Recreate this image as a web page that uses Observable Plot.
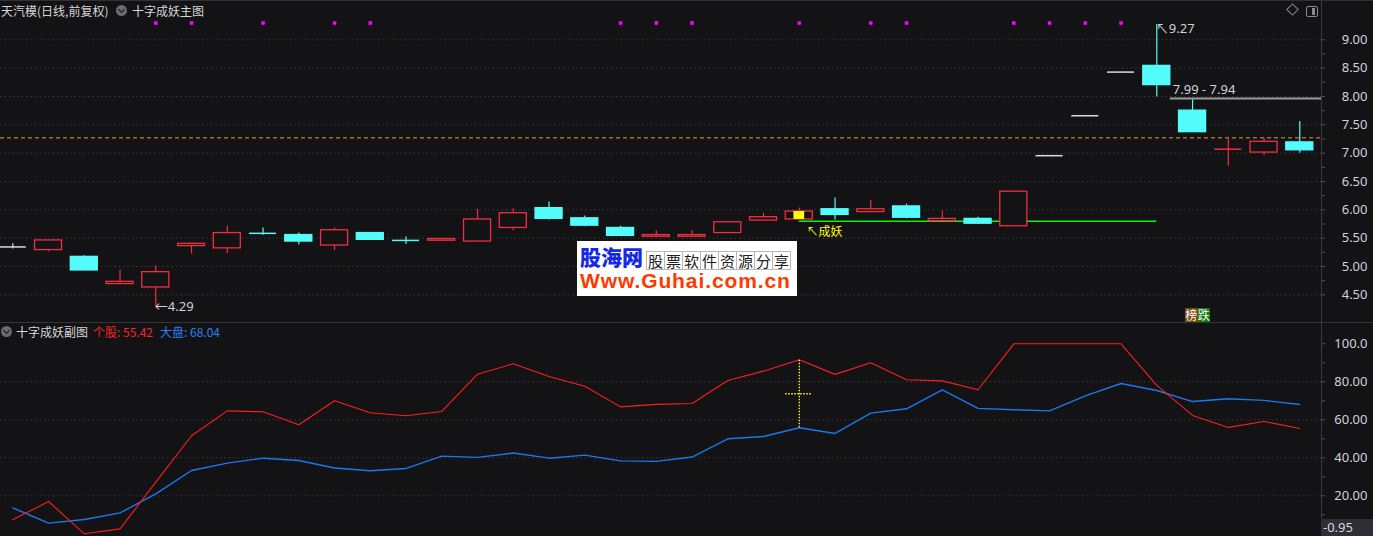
<!DOCTYPE html>
<html><head><meta charset="utf-8">
<script src="https://cdn.jsdelivr.net/npm/d3@7"></script>
<script src="https://cdn.jsdelivr.net/npm/@observablehq/plot@0.6"></script>
<style>
html,body{margin:0;padding:0;background:#131215;}
#wrap{position:relative;width:1373px;height:536px;overflow:hidden;background:#131215;font-family:"Noto Sans CJK SC","Noto Sans",sans-serif;}
.abs{position:absolute;white-space:nowrap;}
.ttl{font-size:12px;line-height:14px;color:#d6d6d6;}
.chev{width:11px;height:11px;border-radius:50%;background:#6c6c70;}
.chev::after{content:"";position:absolute;left:3px;top:2px;width:4px;height:4px;border-right:1.5px solid #1a1a1a;border-bottom:1.5px solid #1a1a1a;transform:rotate(45deg);}
.cell{display:inline-block;width:17px;height:17px;border:1px solid #b8b8b8;border-right:none;font-size:15px;line-height:17px;text-align:center;color:#202020;}
.cell:last-child{border-right:1px solid #b8b8b8;}
</style></head>
<body><div id="wrap"></div>
<script>
// ---------- data ----------
const opens  = [5.345,5.29,5.17,4.69,4.63,5.36,5.32,5.585,5.555,5.37,5.59,5.46,5.455,5.44,5.68,6.03,5.85,5.68,5.525,5.525,5.59,5.81,5.83,6.01,5.96,6.06,5.80,5.84,5.71,6.955,7.66,8.43,8.54,7.75,7.07,7.01,7.19];
const highs  = [5.40,5.46,5.19,4.94,5.01,5.40,5.71,5.68,5.59,5.68,5.59,5.52,5.485,6.01,6.02,6.14,5.89,5.71,5.63,5.63,5.78,5.94,6.03,6.21,6.17,6.10,5.98,5.87,6.32,6.955,7.66,8.43,9.27,7.94,7.28,7.26,7.56];
const lows   = [5.31,5.26,4.93,4.69,4.29,5.22,5.23,5.55,5.38,5.28,5.47,5.39,5.455,5.44,5.63,5.82,5.70,5.53,5.525,5.525,5.59,5.81,5.83,5.82,5.96,5.84,5.80,5.74,5.71,6.955,7.66,8.43,7.99,7.37,6.77,6.96,7.00];
const closes = [5.345,5.46,4.93,4.73,4.90,5.40,5.59,5.585,5.44,5.64,5.47,5.46,5.485,5.83,5.94,5.84,5.72,5.54,5.555,5.555,5.78,5.87,5.97,5.91,6.01,5.86,5.84,5.755,6.32,6.955,7.66,8.43,8.20,7.37,7.07,7.20,7.05];
// u = up (red hollow), d = down (cyan filled), n = one-price / neutral (grey)
const kinds  = ["n","u","d","u","u","u","u","d","d","u","d","d","u","u","u","d","d","d","u","u","u","u","u","d","u","d","u","d","u","n","n","n","d","d","u","u","d"];
const signalDays = [4,5,7,9,10,17,18,19,22,24,25,28,29,30,31];
const stockScore  = [7.4,17.0,0.0,2.6,27.2,51.6,64.7,64.2,57.4,70.0,63.7,62.1,64.4,84.0,89.5,82.8,77.7,66.8,68.1,68.6,80.7,85.6,91.6,83.9,90.0,81.1,80.5,75.8,100,100,100,100,78.1,62.3,56.0,59.1,55.42];
const marketScore = [13.7,5.6,7.5,11.0,21.0,33.3,37.2,39.8,38.6,34.6,33.2,34.4,40.9,40.2,42.5,39.8,41.4,38.4,38.1,40.4,50.0,51.2,55.8,52.8,63.5,65.8,75.8,66.0,65.3,64.7,72.6,79.1,75.4,69.6,71.1,70.2,68.04];
const priceTicks = [4.5,5.0,5.5,6.0,6.5,7.0,7.5,8.0,8.5,9.0];
const priceTickLabels = ["4.50","5.00","5.50","6.00","6.50","7.00","7.50","8.00","8.50","9.00"];
const priceMinorTicks = [4.5,4.75,5,5.25,5.5,5.75,6,6.25,6.5,6.75,7,7.25,7.5,7.75,8,8.25,8.5,8.75,9];
const scoreGrid = [20,40,60,80];
const scoreTicks = [20,40,60,80,100];
const scoreTickLabels = ["20.00","40.00","60.00","80.00","100.0"];
const scoreMinorTicks = [10,20,30,40,50,60,70,80,90,100];
const yaoIndex = 22, yaoEnd = 32, yaoLevel = 5.80, yaoLabelPrice = 5.60;
const gapStartIndex = 32, gapHigh = 7.99, gapLow = 7.94, gapLevel = 7.965;
const refPrice = 7.27;
const lowMarkIndex = 4, highMarkIndex = 32;

// ---------- helpers ----------
const RED = "#f52d41", CYAN = "#54fcfc", GREY = "#dcdcdc", BG = "#131215";
const AXIS_TXT = "#cfd3dc", GRID = "#45454a", AXIS_LINE = "#3a3a44";
const xDomain = [-0.344, 36.607];
const unitPx = 1321 / (xDomain[1] - xDomain[0]);
const half = 0.378;
const tickLen = 4 / unitPx;
const candles = opens.map((o, i) => ({
  i, o, h: highs[i], l: lows[i], c: closes[i], k: kinds[i],
  top: Math.max(o, closes[i]), bot: Math.min(o, closes[i])
}));
const bodies = candles.filter(d => d.top - d.bot >= 0.005);
const dojis = candles.filter(d => d.top - d.bot < 0.005);
const colorOf = k => k === "u" ? RED : k === "d" ? CYAN : GREY;
const font = '"Noto Sans","Noto Sans CJK SC",sans-serif';

const topPlot = Plot.plot({
  width: 1373, height: 323,
  marginLeft: 0, marginRight: 52, marginTop: 0, marginBottom: 0,
  style: {background: "transparent", fontFamily: font, fontSize: "13px", overflow: "visible"},
  x: {type: "linear", domain: xDomain, axis: null},
  y: {domain: [3.994, 9.6935], axis: null},
  marks: [
    Plot.ruleY(priceTicks, {stroke: GRID, strokeDasharray: "1.2,3.2"}),
    Plot.ruleY(priceMinorTicks, {y: d => d, x1: xDomain[1], x2: xDomain[1] + tickLen, stroke: "#55555e"}),
    Plot.text(priceTicks, {y: d => d, frameAnchor: "right", dx: 46, textAnchor: "end",
      text: (d, i) => priceTickLabels[i], fill: AXIS_TXT, fontSize: 13}),
    Plot.ruleX([xDomain[1]], {stroke: AXIS_LINE}),
    Plot.ruleY([refPrice], {stroke: "#e39a3c", strokeDasharray: "4,3"}),
    Plot.ruleY([yaoLevel], {x1: yaoIndex, x2: yaoEnd, stroke: "#10f010", strokeWidth: 1.5}),
    Plot.ruleY([gapLevel], {x1: gapStartIndex + half, x2: xDomain[1], stroke: "#9c9c9c", strokeWidth: 2}),
    Plot.text([gapLevel], {x: gapStartIndex + half + 0.07, y: d => d, dy: -9, textAnchor: "start",
      text: () => `${gapHigh.toFixed(2)} - ${gapLow.toFixed(2)}`, fill: AXIS_TXT, fontSize: 13}),
    // wicks
    Plot.ruleX(candles, {x: "i", y1: "top", y2: "h", stroke: d => colorOf(d.k), strokeWidth: 1.2}),
    Plot.ruleX(candles, {x: "i", y1: "l", y2: "bot", stroke: d => colorOf(d.k), strokeWidth: 1.2}),
    // bodies
    Plot.rect(bodies, {x1: d => d.i - half, x2: d => d.i + half, y1: "bot", y2: "top",
      fill: d => d.k === "u" ? BG : colorOf(d.k), stroke: d => colorOf(d.k), strokeWidth: 1.3}),
    // one-price / doji bodies as horizontal bars
    Plot.ruleY(dojis, {y: "o", x1: d => d.i - half, x2: d => d.i + half, stroke: d => colorOf(d.k), strokeWidth: 1.5}),
    // yellow marker inside the signal candle
    Plot.rect([candles[yaoIndex]], {x1: d => d.i - 0.15, x2: d => d.i + 0.15, y1: "bot", y2: "top", fill: "#ffff00"}),
    Plot.text([candles[yaoIndex]], {x: d => d.i + 0.2, y: () => yaoLabelPrice, textAnchor: "start",
      text: () => "↖成妖", fill: "#ffff00", fontSize: 12, fontFamily: '"Noto Sans CJK SC",sans-serif'}),
    // signal dots
    Plot.dot(signalDays, {x: d => d, frameAnchor: "top", dy: 22.5, symbol: "square", r: 2, fill: "#ff00ff", stroke: "none"}),
    // high / low annotations
    Plot.text([candles[lowMarkIndex]], {x: "i", y: "l", dx: -1, textAnchor: "start",
      text: d => "←" + d.l.toFixed(2), fill: AXIS_TXT, fontSize: 13}),
    Plot.text([candles[highMarkIndex]], {x: "i", y: "h", dx: -1, dy: 4, textAnchor: "start",
      text: d => "↖" + d.h.toFixed(2), fill: AXIS_TXT, fontSize: 13})
  ]
});

const scoreIdx = stockScore.map((v, i) => i);
const botPlot = Plot.plot({
  width: 1373, height: 213,
  marginLeft: 0, marginRight: 52, marginTop: 0, marginBottom: 0,
  style: {background: "transparent", fontFamily: font, fontSize: "13px", overflow: "visible"},
  x: {type: "linear", domain: xDomain, axis: null},
  y: {domain: [-1.42, 110.68], axis: null},
  marks: [
    Plot.ruleY(scoreGrid, {stroke: GRID, strokeDasharray: "1.2,3.2"}),
    Plot.ruleY(scoreMinorTicks, {y: d => d, x1: xDomain[1], x2: xDomain[1] + tickLen, stroke: "#55555e"}),
    Plot.text(scoreTicks, {y: d => d, frameAnchor: "right", dx: 46, textAnchor: "end",
      text: (d, i) => scoreTickLabels[i], fill: AXIS_TXT, fontSize: 13}),
    Plot.ruleX([xDomain[1]], {stroke: AXIS_LINE}),
    Plot.line(scoreIdx, {x: d => d, y: d => marketScore[d], stroke: "#1a78ee", strokeWidth: 1.4}),
    Plot.line(scoreIdx, {x: d => d, y: d => stockScore[d], stroke: "#ff1e1e", strokeWidth: 1.1}),
    Plot.ruleX([yaoIndex], {x: d => d, y1: d => marketScore[d], y2: d => stockScore[d],
      stroke: "#ffff30", strokeWidth: 1.3, strokeDasharray: "1.5,1.5"}),
    Plot.ruleY([yaoIndex], {y: d => (marketScore[d] + stockScore[d]) / 2, x1: d => d - half, x2: d => d + half,
      stroke: "#ffff30", strokeWidth: 1.3, strokeDasharray: "1.5,1.5"})
  ]
});

const wrap = document.getElementById("wrap");
function place(el, l, t) { const d = document.createElement("div"); d.className = "abs"; d.style.left = l + "px"; d.style.top = t + "px"; d.appendChild(el); wrap.appendChild(d); return d; }
place(topPlot, 0, 0);
place(botPlot, 0, 323);

wrap.insertAdjacentHTML("beforeend", `
<div class="abs" style="left:0;top:0;width:1373px;height:1px;background:#303036"></div>
<div class="abs" style="left:0;top:322px;width:1373px;height:1px;background:#34343c"></div>
<div class="abs ttl" style="left:1px;top:4px">天汽模(日线,前复权)</div>
<div class="abs chev" style="left:116px;top:5px"></div>
<div class="abs ttl" style="left:132px;top:4px">十字成妖主图</div>
<div class="abs" style="left:1288px;top:5px;width:7px;height:7px;border:1px solid #8a8a8a;transform:rotate(45deg)"></div>
<div class="abs" style="left:1306px;top:6px;width:10px;height:9px;border:1px solid #8a8a8a;border-radius:2px"></div>
<div class="abs" style="left:1312px;top:8px;width:3px;height:7px;background:#8a8a8a"></div>
<div class="abs chev" style="left:1px;top:326px"></div>
<div class="abs ttl" style="left:16px;top:325px">十字成妖副图</div>
<div class="abs ttl" style="left:93px;top:325px;color:#ff2424">个股: ${stockScore[stockScore.length-1].toFixed(2)}</div>
<div class="abs ttl" style="left:160px;top:325px;color:#2a7ff0">大盘: ${marketScore[marketScore.length-1].toFixed(2)}</div>
<div class="abs" style="left:1321px;top:519px;width:52px;height:17px;background:#2e2e36;color:#d8d8de;font:13px 'Noto Sans',sans-serif;line-height:17px;padding-left:2px;box-sizing:border-box">-0.95</div>
<div class="abs" style="left:1185px;top:308px;font:12px 'Noto Sans CJK SC',sans-serif;line-height:14px;color:#fff"><span style="background:#7a4a12;display:inline-block;width:12.5px;height:14px;text-align:center">榜</span><span style="background:#0b7a0b;display:inline-block;width:12.5px;height:14px;text-align:center">跌</span></div>
<div class="abs" style="left:577px;top:241px;width:220px;height:55px;background:#ffffff">
  <div class="abs" style="left:3px;top:3px;font:900 21px 'Noto Sans CJK SC',sans-serif;line-height:25px;color:#1428e6">股海网</div>
  <div class="abs" style="left:69px;top:7px;font-family:'Noto Sans CJK SC',sans-serif"><span class="cell">股</span><span class="cell">票</span><span class="cell">软</span><span class="cell">件</span><span class="cell">资</span><span class="cell">源</span><span class="cell">分</span><span class="cell">享</span></div>
  <div class="abs" style="left:3px;top:29px;font:bold 21px 'Liberation Sans',Arial,sans-serif;line-height:22px;color:#ff3a00;letter-spacing:0.9px">Www.Guhai.com.cn</div>
</div>
`);
</script>
</body></html>
